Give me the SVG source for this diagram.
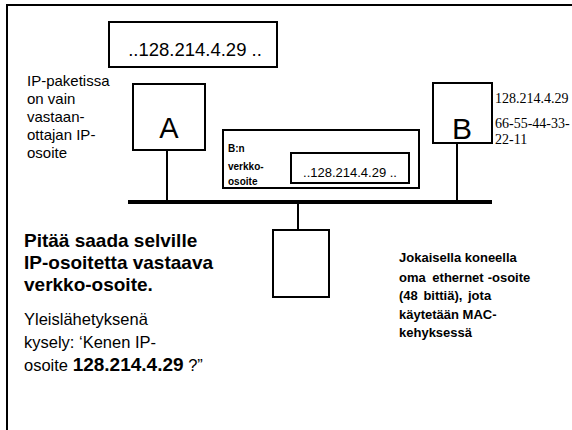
<svg xmlns="http://www.w3.org/2000/svg" width="572" height="430" viewBox="0 0 572 430">
<style>
.box{fill:#fff;stroke:#000;stroke-width:2}
.ln{stroke:#000;stroke-width:2;fill:none}
.s{font-family:"Liberation Sans",Arial,sans-serif;fill:#000}
.b{font-weight:bold}
.sf{font-family:"Liberation Serif","Times New Roman",serif;fill:#000;font-size:14px}
</style>
<rect x="0" y="0" width="572" height="430" fill="#fff"/>
<rect x="7" y="5" width="580" height="440" class="ln"/>
<g id="connectors">
<line x1="167" y1="150" x2="167" y2="202" class="ln"/>
<line x1="457" y1="143" x2="457" y2="202" class="ln"/>
<line x1="298" y1="202" x2="298" y2="230" class="ln"/>
<line x1="128" y1="202" x2="492" y2="202" stroke="#000" stroke-width="4"/>
</g>
<g id="packet">
<rect x="109" y="22" width="168" height="45" class="box"/>
<text x="195" y="56" class="s" font-size="18.5" text-anchor="middle">..128.214.4.29 ..</text>
</g>
<g id="nodeA">
<rect x="133" y="84" width="72" height="66" class="box"/>
<text x="169" y="138" class="s" font-size="29" text-anchor="middle">A</text>
</g>
<g id="nodeB">
<rect x="433" y="83" width="59" height="60" class="box"/>
<text x="462" y="139" class="s" font-size="30" text-anchor="middle">B</text>
</g>
<g id="bnaddr">
<rect x="223" y="130" width="196" height="58" class="box"/>
<text class="s b" font-size="10"><tspan x="228" y="152">B:n</tspan><tspan x="228" y="170">verkko-</tspan><tspan x="228" y="185">osoite</tspan></text>
<rect x="291" y="153" width="118" height="30" class="box"/>
<text x="350" y="177" class="s" font-size="13" text-anchor="middle">..128.214.4.29 ..</text>
</g>
<g id="nodeC">
<rect x="273" y="230" width="56" height="67" class="box"/>
</g>
<g id="labels">
<text class="s" font-size="15"><tspan x="27" y="86">IP-paketissa</tspan><tspan x="27" y="104">on vain</tspan><tspan x="27" y="122">vastaan-</tspan><tspan x="27" y="140">ottajan  IP-</tspan><tspan x="27" y="158">osoite</tspan></text>
<text class="sf"><tspan x="495" y="103">128.214.4.29</tspan><tspan x="495" y="128">66-55-44-33-</tspan><tspan x="495" y="144">22-11</tspan></text>
<text class="s b" font-size="19"><tspan x="24" y="247">Pitää saada selville</tspan><tspan x="24" y="269">IP-osoitetta vastaava</tspan><tspan x="24" y="291">verkko-osoite.</tspan></text>
<text class="s" font-size="16.5"><tspan x="24" y="325">Yleislähetyksenä</tspan><tspan x="24" y="348">kysely: ‘Kenen IP-</tspan><tspan x="24" y="371">osoite <tspan class="b" font-size="19">128.214.4.29</tspan> ?”</tspan></text>
<text class="s b" font-size="13"><tspan x="399" y="262">Jokaisella koneella</tspan><tspan x="399" y="282" word-spacing="3">oma ethernet</tspan><tspan dx="4">-osoite</tspan><tspan x="399" y="300" word-spacing="2">(48 bittiä), jota</tspan><tspan x="399" y="319">käytetään MAC-</tspan><tspan x="399" y="337">kehyksessä</tspan></text>
</g>
</svg>
